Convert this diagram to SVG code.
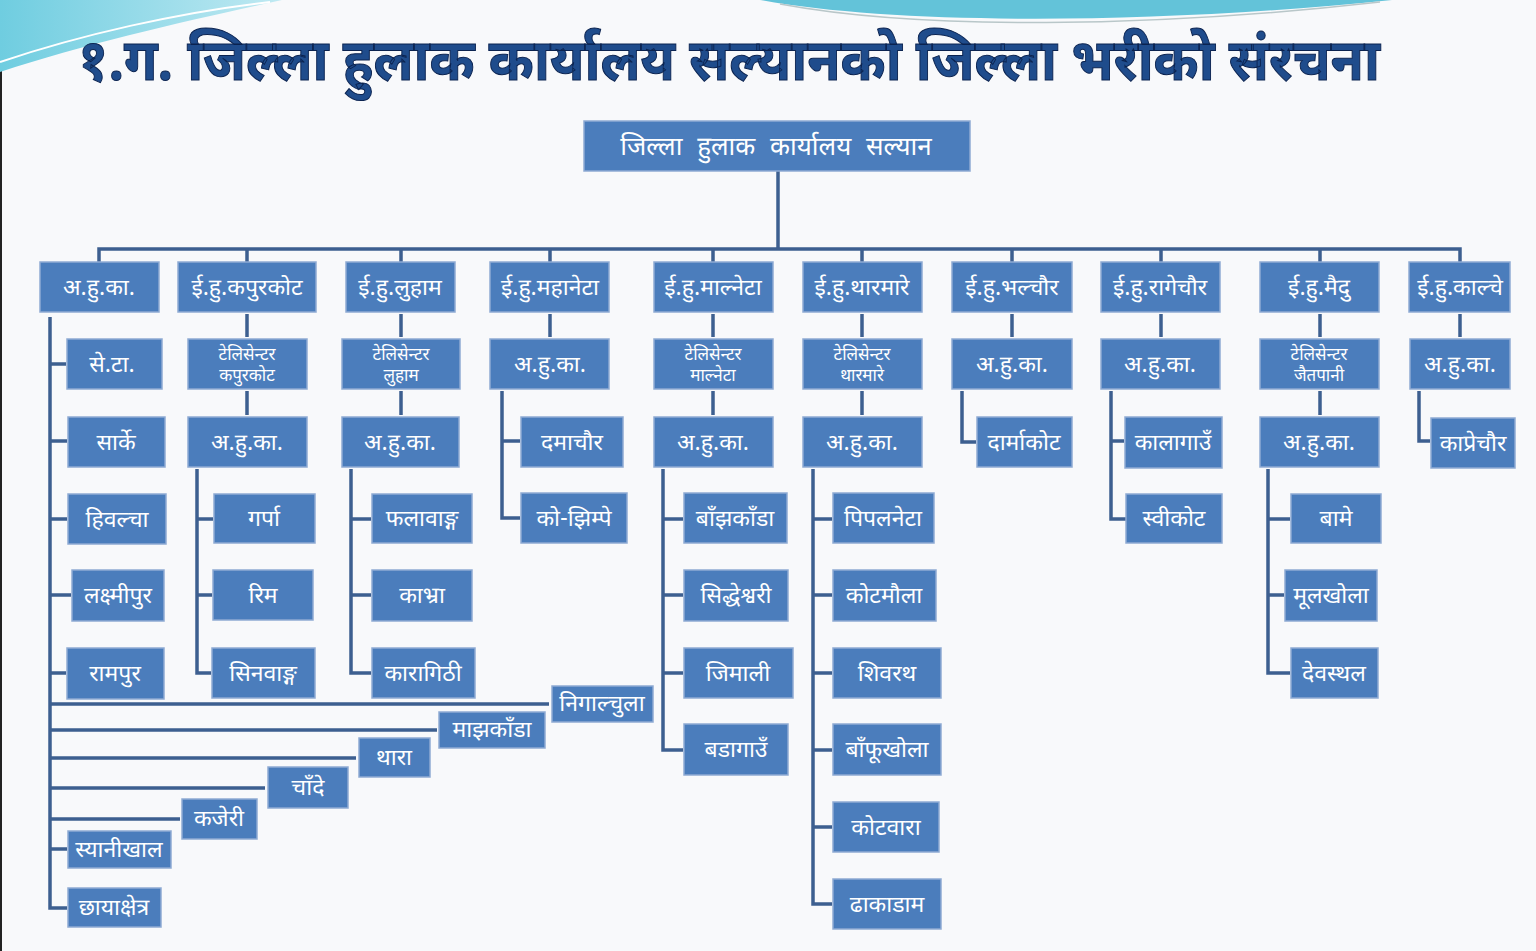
<svg xmlns="http://www.w3.org/2000/svg" width="1536" height="951" viewBox="0 0 1536 951">
<defs>
<style>
.box{fill:#4b7dbc;stroke:#8eaad3;stroke-width:1.5}
.lbl{font-family:"Noto Sans Devanagari","Lohit Devanagari","Mangal","Noto Sans",sans-serif;font-size:23px;fill:#ffffff;text-anchor:middle}
.sm{font-size:17px}
.big{font-size:26px;word-spacing:8px}
.conn{stroke:#3d5f90;stroke-width:3.5;fill:none}
.title{font-family:"Noto Sans Devanagari","Lohit Devanagari","Mangal","Noto Sans",sans-serif;font-size:58px;font-weight:bold;fill:#1f4c8c;stroke:#0b2350;stroke-width:1}
</style>
<linearGradient id="sw" x1="0" y1="0" x2="1" y2="0">
<stop offset="0" stop-color="#6fcde0"/><stop offset="1" stop-color="#bfe9f2"/>
</linearGradient>
</defs>
<rect x="0" y="0" width="1536" height="951" fill="#f8f9fb"/>
<rect x="0" y="0" width="2" height="951" fill="#222"/>
<g id="decor">
<path d="M0,0 H282 C200,18 90,42 0,72 Z" fill="url(#sw)"/>
<path d="M0,62 C80,35 180,12 270,2" stroke="#ffffff" stroke-width="2" fill="none"/>
<path d="M760,0 C900,26 1160,24 1392,0 Z" fill="#63c3d9"/>
<path d="M780,4 C920,30 1150,28 1380,2" stroke="#b9c7c9" stroke-width="1.5" fill="none"/>
</g>
<text class="title" x="78" y="80" textLength="1302" lengthAdjust="spacingAndGlyphs">१.ग. जिल्ला हुलाक कार्यालय सल्यानको जिल्ला भरीको संरचना</text>

<g id="connectors">
<path class="conn" d="M778,171 V249"/>
<path class="conn" d="M99,262 V249 H1460 V262"/>
<path class="conn" d="M247,249 V262 M401,249 V262 M550,249 V262 M713,249 V262 M862,249 V262 M1012,249 V262 M1161,249 V262 M1320,249 V262"/>
<path class="conn" d="M50,317 V908 H67"/>
<path class="conn" d="M50,364 H66 M50,441 H67 M50,519 H67 M50,595 H71 M50,673 H66 M50,849 H67"/>
<path class="conn" d="M50,704 H549 M50,730 H437 M50,758 H356 M50,788 H265 M50,819 H180"/>
<path class="conn" d="M247,314 V337 M247,391 V415"/>
<path class="conn" d="M197,469 V673 H211 M197,519 H213 M197,595 H212"/>
<path class="conn" d="M401,314 V337 M401,391 V415"/>
<path class="conn" d="M351,469 V673 H371 M351,519 H371 M351,595 H371"/>
<path class="conn" d="M550,314 V337"/>
<path class="conn" d="M502,391 V518 H520 M502,441 H520"/>
<path class="conn" d="M713,314 V337 M713,391 V415"/>
<path class="conn" d="M663,469 V750 H683 M663,519 H683 M663,595 H683 M663,673 H683"/>
<path class="conn" d="M862,314 V337 M862,391 V415"/>
<path class="conn" d="M813,469 V904 H832 M813,519 H832 M813,595 H832 M813,673 H832 M813,750 H832 M813,827 H832"/>
<path class="conn" d="M1012,314 V337"/>
<path class="conn" d="M962,391 V442 H976"/>
<path class="conn" d="M1161,314 V337"/>
<path class="conn" d="M1111,391 V519 H1126 M1111,441 H1124"/>
<path class="conn" d="M1320,314 V337 M1320,391 V415"/>
<path class="conn" d="M1268,469 V673 H1290 M1268,519 H1290 M1268,595 H1284"/>
<path class="conn" d="M1460,314 V337"/>
<path class="conn" d="M1419,391 V441 H1430"/>
</g>

<g id="n-root"><rect class="box" x="584" y="121" width="386" height="50"/><text class="lbl big" x="776" y="155">जिल्ला हुलाक कार्यालय सल्यान</text></g>

<g id="n-c1"><rect class="box" x="40" y="262" width="119" height="50"/><text class="lbl" x="99" y="295">अ.हु.का.</text></g>
<g id="n-c2"><rect class="box" x="178" y="262" width="138" height="50"/><text class="lbl" x="247" y="295">ई.हु.कपुरकोट</text></g>
<g id="n-c3"><rect class="box" x="346" y="262" width="109" height="50"/><text class="lbl" x="400" y="295">ई.हु.लुहाम</text></g>
<g id="n-c4"><rect class="box" x="490" y="262" width="119" height="50"/><text class="lbl" x="550" y="295">ई.हु.महानेटा</text></g>
<g id="n-c5"><rect class="box" x="654" y="262" width="119" height="50"/><text class="lbl" x="713" y="295">ई.हु.माल्नेटा</text></g>
<g id="n-c6"><rect class="box" x="803" y="262" width="119" height="50"/><text class="lbl" x="862" y="295">ई.हु.थारमारे</text></g>
<g id="n-c7"><rect class="box" x="952" y="262" width="120" height="50"/><text class="lbl" x="1012" y="295">ई.हु.भल्चौर</text></g>
<g id="n-c8"><rect class="box" x="1101" y="262" width="119" height="50"/><text class="lbl" x="1160" y="295">ई.हु.रागेचौर</text></g>
<g id="n-c9"><rect class="box" x="1260" y="262" width="119" height="50"/><text class="lbl" x="1319" y="295">ई.हु.मैदु</text></g>
<g id="n-c10"><rect class="box" x="1409" y="262" width="101" height="50"/><text class="lbl" x="1460" y="295">ई.हु.काल्चे</text></g>

<g id="n-seta"><rect class="box" x="67" y="339" width="95" height="50"/><text class="lbl" x="112" y="372">से.टा.</text></g>
<g id="n-sarke"><rect class="box" x="68" y="417" width="97" height="50"/><text class="lbl" x="116" y="450">सार्के</text></g>
<g id="n-hiwalcha"><rect class="box" x="68" y="494" width="98" height="50"/><text class="lbl" x="117" y="527">हिवल्चा</text></g>
<g id="n-laxmipur"><rect class="box" x="72" y="570" width="92" height="51"/><text class="lbl" x="118" y="603">लक्ष्मीपुर</text></g>
<g id="n-rampur"><rect class="box" x="67" y="648" width="97" height="51"/><text class="lbl" x="115" y="681">रामपुर</text></g>
<g id="n-nigalchula"><rect class="box" x="552" y="686" width="101" height="36"/><text class="lbl" x="602" y="711">निगाल्चुला</text></g>
<g id="n-majhkanda"><rect class="box" x="439" y="712" width="106" height="36"/><text class="lbl" x="492" y="737">माझकाँडा</text></g>
<g id="n-thara"><rect class="box" x="359" y="738" width="71" height="39"/><text class="lbl" x="394" y="765">थारा</text></g>
<g id="n-chande"><rect class="box" x="268" y="767" width="80" height="41"/><text class="lbl" x="308" y="795">चाँदे</text></g>
<g id="n-kajeri"><rect class="box" x="182" y="799" width="75" height="40"/><text class="lbl" x="219" y="826">कजेरी</text></g>
<g id="n-syanikhal"><rect class="box" x="68" y="831" width="103" height="37"/><text class="lbl" x="119" y="857">स्यानीखाल</text></g>
<g id="n-chhayakshetra"><rect class="box" x="68" y="888" width="93" height="39"/><text class="lbl" x="114" y="915">छायाक्षेत्र</text></g>

<g id="n-tc-kapurkot"><rect class="box" x="188" y="339" width="119" height="50"/><text class="lbl sm" x="247" y="360">टेलिसेन्टर</text><text class="lbl sm" x="247" y="381">कपुरकोट</text></g>
<g id="n-ahk-kapurkot"><rect class="box" x="188" y="417" width="119" height="50"/><text class="lbl" x="247" y="450">अ.हु.का.</text></g>
<g id="n-garpa"><rect class="box" x="214" y="494" width="101" height="49"/><text class="lbl" x="264" y="526">गर्पा</text></g>
<g id="n-rim"><rect class="box" x="213" y="570" width="100" height="50"/><text class="lbl" x="263" y="603">रिम</text></g>
<g id="n-sinwang"><rect class="box" x="212" y="648" width="103" height="50"/><text class="lbl" x="263" y="681">सिनवाङ्ग</text></g>

<g id="n-tc-luham"><rect class="box" x="342" y="339" width="118" height="50"/><text class="lbl sm" x="401" y="360">टेलिसेन्टर</text><text class="lbl sm" x="401" y="381">लुहाम</text></g>
<g id="n-ahk-luham"><rect class="box" x="342" y="417" width="117" height="50"/><text class="lbl" x="400" y="450">अ.हु.का.</text></g>
<g id="n-phalawang"><rect class="box" x="372" y="494" width="100" height="49"/><text class="lbl" x="422" y="526">फलावाङ्ग</text></g>
<g id="n-kabhra"><rect class="box" x="372" y="570" width="100" height="51"/><text class="lbl" x="422" y="603">काभ्रा</text></g>
<g id="n-karagithi"><rect class="box" x="372" y="648" width="103" height="50"/><text class="lbl" x="423" y="681">कारागिठी</text></g>

<g id="n-ahk-mahaneta"><rect class="box" x="490" y="339" width="119" height="50"/><text class="lbl" x="550" y="372">अ.हु.का.</text></g>
<g id="n-damachaur"><rect class="box" x="521" y="417" width="102" height="50"/><text class="lbl" x="572" y="450">दमाचौर</text></g>
<g id="n-kojhimpe"><rect class="box" x="521" y="493" width="106" height="50"/><text class="lbl" x="574" y="526">को-झिम्पे</text></g>

<g id="n-tc-malneta"><rect class="box" x="654" y="339" width="119" height="50"/><text class="lbl sm" x="713" y="360">टेलिसेन्टर</text><text class="lbl sm" x="713" y="381">माल्नेटा</text></g>
<g id="n-ahk-malneta"><rect class="box" x="654" y="417" width="119" height="50"/><text class="lbl" x="713" y="450">अ.हु.का.</text></g>
<g id="n-banjhkanda"><rect class="box" x="684" y="493" width="103" height="50"/><text class="lbl" x="735" y="526">बाँझकाँडा</text></g>
<g id="n-siddheshwari"><rect class="box" x="684" y="570" width="104" height="51"/><text class="lbl" x="736" y="603">सिद्धेश्वरी</text></g>
<g id="n-jimali"><rect class="box" x="684" y="648" width="109" height="50"/><text class="lbl" x="738" y="681">जिमाली</text></g>
<g id="n-badagaun"><rect class="box" x="684" y="724" width="104" height="51"/><text class="lbl" x="736" y="757">बडागाउँ</text></g>

<g id="n-tc-tharmare"><rect class="box" x="803" y="339" width="119" height="50"/><text class="lbl sm" x="862" y="360">टेलिसेन्टर</text><text class="lbl sm" x="862" y="381">थारमारे</text></g>
<g id="n-ahk-tharmare"><rect class="box" x="803" y="417" width="119" height="50"/><text class="lbl" x="862" y="450">अ.हु.का.</text></g>
<g id="n-pipalneta"><rect class="box" x="833" y="493" width="101" height="50"/><text class="lbl" x="883" y="526">पिपलनेटा</text></g>
<g id="n-kotmaula"><rect class="box" x="833" y="570" width="103" height="51"/><text class="lbl" x="884" y="603">कोटमौला</text></g>
<g id="n-shivarath"><rect class="box" x="833" y="648" width="108" height="50"/><text class="lbl" x="887" y="681">शिवरथ</text></g>
<g id="n-banphukhola"><rect class="box" x="833" y="724" width="108" height="51"/><text class="lbl" x="887" y="757">बाँफूखोला</text></g>
<g id="n-kotwara"><rect class="box" x="833" y="802" width="106" height="50"/><text class="lbl" x="886" y="835">कोटवारा</text></g>
<g id="n-dhakadam"><rect class="box" x="833" y="879" width="108" height="50"/><text class="lbl" x="887" y="912">ढाकाडाम</text></g>

<g id="n-ahk-bhalchaur"><rect class="box" x="952" y="339" width="120" height="50"/><text class="lbl" x="1012" y="372">अ.हु.का.</text></g>
<g id="n-darmakot"><rect class="box" x="977" y="417" width="95" height="50"/><text class="lbl" x="1024" y="450">दार्माकोट</text></g>

<g id="n-ahk-ragechaur"><rect class="box" x="1101" y="339" width="119" height="50"/><text class="lbl" x="1160" y="372">अ.हु.का.</text></g>
<g id="n-kalagaun"><rect class="box" x="1125" y="417" width="97" height="51"/><text class="lbl" x="1173" y="450">कालागाउँ</text></g>
<g id="n-swikot"><rect class="box" x="1126" y="494" width="96" height="49"/><text class="lbl" x="1174" y="526">स्वीकोट</text></g>

<g id="n-tc-jaitpani"><rect class="box" x="1260" y="339" width="119" height="50"/><text class="lbl sm" x="1319" y="360">टेलिसेन्टर</text><text class="lbl sm" x="1319" y="381">जैतपानी</text></g>
<g id="n-ahk-maidu"><rect class="box" x="1260" y="417" width="119" height="50"/><text class="lbl" x="1319" y="450">अ.हु.का.</text></g>
<g id="n-bame"><rect class="box" x="1291" y="494" width="90" height="49"/><text class="lbl" x="1336" y="526">बामे</text></g>
<g id="n-mulkhola"><rect class="box" x="1285" y="570" width="92" height="51"/><text class="lbl" x="1331" y="603">मूलखोला</text></g>
<g id="n-devasthal"><rect class="box" x="1291" y="648" width="87" height="50"/><text class="lbl" x="1334" y="681">देवस्थल</text></g>

<g id="n-ahk-kalche"><rect class="box" x="1410" y="339" width="100" height="50"/><text class="lbl" x="1460" y="372">अ.हु.का.</text></g>
<g id="n-kaprechaur"><rect class="box" x="1431" y="418" width="84" height="50"/><text class="lbl" x="1473" y="451">काप्रेचौर</text></g>
</svg>
